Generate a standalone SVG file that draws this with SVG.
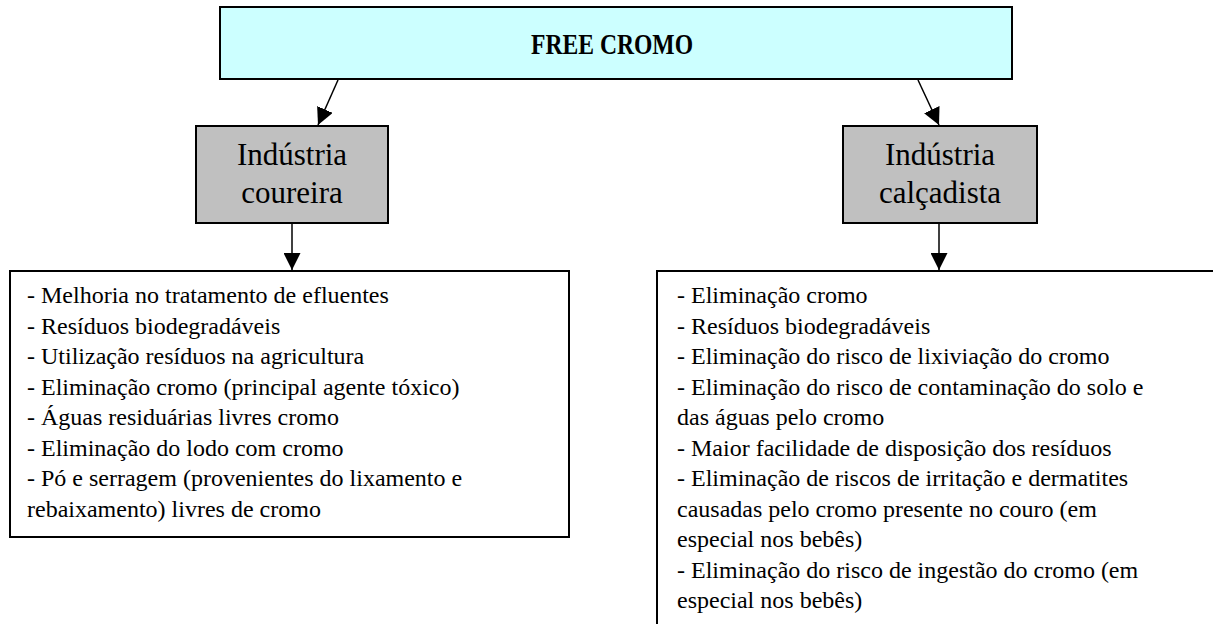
<svg xmlns="http://www.w3.org/2000/svg" width="1213" height="625" viewBox="0 0 1213 625">
<style>
.box{stroke:#000;stroke-width:2}
.t{font-family:"Liberation Serif","Times New Roman",serif;fill:#000}
.title{font-size:30px;font-weight:bold}
.mid{font-size:31px}
.list{font-size:24px}
.conn{stroke:#000;stroke-width:1.5;fill:none}
</style>
<defs>
<marker id="ah" viewBox="0 0 10 10" refX="10" refY="5" markerWidth="17" markerHeight="17" markerUnits="userSpaceOnUse" orient="auto">
<path d="M0,0 L10,5 L0,10 z" fill="#000"/>
</marker>
</defs>
<rect width="1213" height="625" fill="#fff"/>
<g id="connectors">
<line class="conn" x1="338" y1="80" x2="318" y2="125" marker-end="url(#ah)"/>
<line class="conn" x1="918" y1="80" x2="939" y2="125" marker-end="url(#ah)"/>
<line class="conn" x1="292" y1="223" x2="292" y2="270" marker-end="url(#ah)"/>
<line class="conn" x1="939" y1="223" x2="939" y2="270" marker-end="url(#ah)"/>
</g>
<g id="free-cromo">
<rect class="box" x="220" y="7" width="792" height="72" fill="#ccffff"/>
<text class="t title" x="531" y="54" textLength="162" lengthAdjust="spacingAndGlyphs">FREE CROMO</text>
</g>
<g id="industria-coureira">
<rect class="box" x="196" y="126" width="192" height="97" fill="#c0c0c0"/>
<text class="t mid" x="292" y="165" text-anchor="middle">Indústria</text>
<text class="t mid" x="292" y="203" text-anchor="middle">coureira</text>
</g>
<g id="industria-calcadista">
<rect class="box" x="843" y="126" width="194" height="97" fill="#c0c0c0"/>
<text class="t mid" x="940" y="165" text-anchor="middle">Indústria</text>
<text class="t mid" x="940" y="203" text-anchor="middle">calçadista</text>
</g>
<g id="lista-coureira">
<rect class="box" x="10" y="271" width="559" height="266" fill="#fff"/>
<text class="t list" x="27" y="303">
<tspan x="27" y="303">- Melhoria no tratamento de efluentes</tspan>
<tspan x="27" y="333.5">- Resíduos biodegradáveis</tspan>
<tspan x="27" y="364">- Utilização resíduos na agricultura</tspan>
<tspan x="27" y="394.5">- Eliminação cromo (principal agente tóxico)</tspan>
<tspan x="27" y="425">- Águas residuárias livres cromo</tspan>
<tspan x="27" y="455.5">- Eliminação do lodo com cromo</tspan>
<tspan x="27" y="486">- Pó e serragem (provenientes do lixamento e</tspan>
<tspan x="27" y="516.5">rebaixamento) livres de cromo</tspan>
</text>
</g>
<g id="lista-calcadista">
<path class="box" d="M1214,271 H657 V624" fill="#fff"/>
<text class="t list" x="677" y="303">
<tspan x="677" y="303">- Eliminação cromo</tspan>
<tspan x="677" y="333.5">- Resíduos biodegradáveis</tspan>
<tspan x="677" y="364">- Eliminação do risco de lixiviação do cromo</tspan>
<tspan x="677" y="394.5">- Eliminação do risco de contaminação do solo e</tspan>
<tspan x="677" y="425">das águas pelo cromo</tspan>
<tspan x="677" y="455.5">- Maior facilidade de disposição dos resíduos</tspan>
<tspan x="677" y="486">- Eliminação de riscos de irritação e dermatites</tspan>
<tspan x="677" y="516.5">causadas pelo cromo presente no couro (em</tspan>
<tspan x="677" y="547">especial nos bebês)</tspan>
<tspan x="677" y="577.5">- Eliminação do risco de ingestão do cromo (em</tspan>
<tspan x="677" y="608">especial nos bebês)</tspan>
</text>
</g>
</svg>
